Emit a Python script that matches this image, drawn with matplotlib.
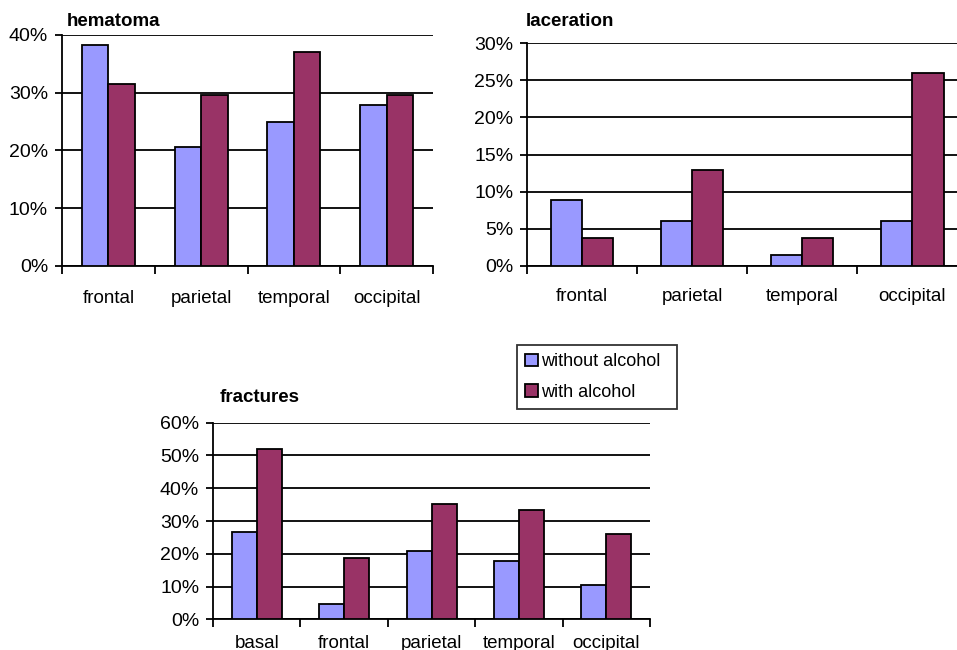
import matplotlib
matplotlib.use("Agg")
import matplotlib.pyplot as plt
import numpy as np

plt.rcParams['font.family'] = ['Liberation Sans', 'DejaVu Sans']

# data (percent)
hema_cats = ["frontal", "parietal", "temporal", "occipital"]
hema_without = [38.3, 20.6, 25.0, 27.9]
hema_with = [31.5, 29.6, 37.1, 29.6]

lac_cats = ["frontal", "parietal", "temporal", "occipital"]
lac_without = [8.9, 6.0, 1.5, 6.0]
lac_with = [3.7, 12.9, 3.7, 26.0]

frac_cats = ["basal", "frontal", "parietal", "temporal", "occipital"]
frac_without = [26.5, 4.6, 20.8, 17.8, 10.4]
frac_with = [52.0, 18.6, 35.3, 33.5, 26.0]

c_without = "#9999FF"
c_with = "#993366"


def bar_panel(ax, cats, wo, wi, ymax, ystep, xpad):
    x = np.arange(len(cats))
    w = 0.286
    ax.bar(x - w / 2, wo, w, color=c_without, edgecolor="black", lw=1.3,
           label="without alcohol", zorder=3)
    ax.bar(x + w / 2, wi, w, color=c_with, edgecolor="black", lw=1.3,
           label="with alcohol", zorder=3)
    ax.set_xlim(-0.5, len(cats) - 0.5)
    ax.set_ylim(0, ymax)
    yt = np.arange(0, ymax + 0.1, ystep)
    ax.set_yticks(yt)
    ax.set_yticklabels(["%d%%" % v for v in yt], fontsize=14)
    ax.yaxis.grid(True, color="black", lw=1.3, zorder=0)
    ax.set_xticks(x)
    ax.set_xticklabels(cats, fontsize=13.5)
    ax.set_xticks(np.arange(-0.5, len(cats)), minor=True)
    ax.tick_params(axis="x", which="major", length=0, pad=xpad)
    ax.tick_params(axis="x", which="minor", length=6, width=1.3, direction="out")
    ax.tick_params(axis="y", length=5, width=1.3, pad=5)
    for s in ["top", "right"]:
        ax.spines[s].set_visible(False)
    ax.spines["left"].set_linewidth(1.3)
    ax.spines["bottom"].set_linewidth(1.3)


fig = plt.figure(figsize=(9.57, 6.5), dpi=100)

ax1 = fig.add_axes([0.0648, 0.5908, 0.3877, 0.3554])
bar_panel(ax1, hema_cats, hema_without, hema_with, 40, 10, 17)
fig.text(0.070, 1 - 21 / 650, "hematoma", fontweight="bold", fontsize=13.5, va="center")

ax2 = fig.add_axes([0.5507, 0.5908, 0.4598, 0.343])
bar_panel(ax2, lac_cats, lac_without, lac_with, 30, 5, 16)
fig.text(0.5495, 1 - 21 / 650, "laceration", fontweight="bold", fontsize=13.5, va="center")

ax3 = fig.add_axes([0.2226, 0.0472, 0.4566, 0.3025])
bar_panel(ax3, frac_cats, frac_without, frac_with, 60, 10, 11)
fig.text(0.230, 1 - 398 / 650, "fractures", fontweight="bold", fontsize=13.5, va="center")

h, l = ax3.get_legend_handles_labels()
leg = fig.legend(h, l, loc="upper left", bbox_to_anchor=(0.540, 0.369, 0.167, 0.100),
                 mode="expand", fontsize=13, frameon=True, fancybox=False,
                 edgecolor="black", handlelength=0.7, handleheight=0.7,
                 handletextpad=0.2, borderpad=0.45, labelspacing=0.75,
                 borderaxespad=0)
leg.get_frame().set_linewidth(1.3)

fig.savefig("out.png", dpi=100)
